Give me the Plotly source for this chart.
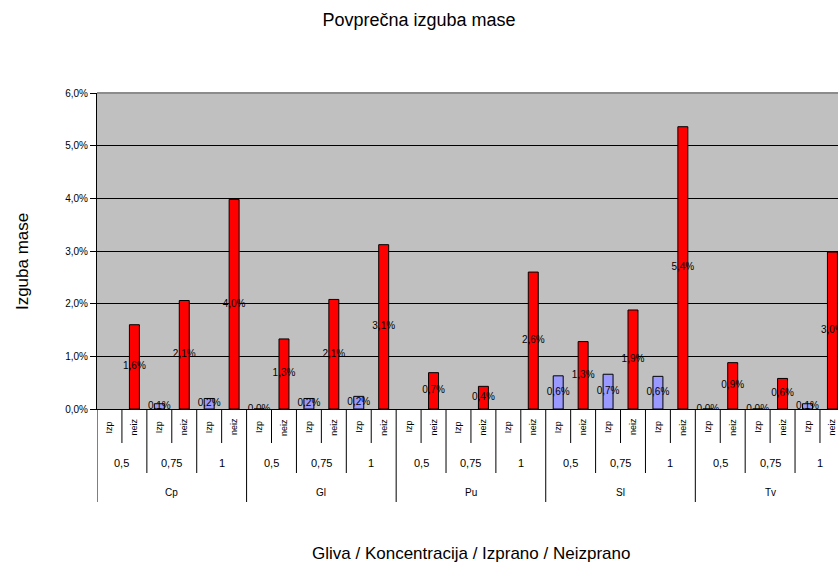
import plotly.graph_objects as go

# Fungi, concentrations and treatment types (washed / unwashed)
fungi = ["Cp", "Gl", "Pu", "Sl", "Tv"]
concentrations = ["0,5", "0,75", "1"]
treatments = ["Izp", "neiz"]

# Average mass loss in %, one list per fungus, ordered conc x (Izp, neiz); None = no sample
loss_cp = [None, 1.6, 0.1, 2.06, 0.2, 3.98]
loss_gl = [0.0, 1.33, 0.2, 2.08, 0.24, 3.12]
loss_pu = [None, 0.69, None, 0.43, None, 2.6]
loss_sl = [0.63, 1.28, 0.66, 1.88, 0.62, 5.36]
loss_tv = [0.0, 0.88, 0.0, 0.58, 0.1, 2.98]

y_ticks = [0, 1, 2, 3, 4, 5, 6]

series = [loss_cp, loss_gl, loss_pu, loss_sl, loss_tv]
colors = {"Izp": "#9999FF", "neiz": "#FF0000"}
FONT = "Liberation Sans, Arial, sans-serif"


def pct(v):
    return f"{v:.1f}%".replace(".", ",")


# flatten the hierarchy into one category index per bar
records = []
for fi, f in enumerate(fungi):
    for ci, c in enumerate(concentrations):
        for ti, t in enumerate(treatments):
            v = series[fi][ci * len(treatments) + ti]
            records.append((f, c, t, v))
n = len(records)

fig = go.Figure()
for t in treatments:
    xs = [i for i, r in enumerate(records) if r[2] == t and r[3] is not None]
    ys = [records[i][3] for i in xs]
    fig.add_trace(go.Bar(
        x=xs, y=ys, width=0.4, name=t,
        marker=dict(color=colors[t], line=dict(color="black", width=1)),
        showlegend=False,
    ))

# value labels sit at the middle of each bar
lx = [i for i, r in enumerate(records) if r[3] is not None]
ly = [records[i][3] / 2 for i in lx]
lt = [pct(records[i][3]) for i in lx]
fig.add_trace(go.Scatter(
    x=lx, y=ly, text=lt, mode="text", textposition="middle center",
    textfont=dict(family=FONT, size=10, color="black"),
    showlegend=False, cliponaxis=True, hoverinfo="skip",
))

# plot area height in px, used to place the multi-level category axis below
PLOT_H = 316.0
def py(px_below):
    return -px_below / PLOT_H

shapes = []
annotations = []
row1_bot, row2_bot, row3_bot = py(34), py(64), py(93)

# left axis line extended through the category rows
shapes.append(dict(type="line", xref="x", yref="paper", x0=-0.5, x1=-0.5,
                   y0=0, y1=row3_bot, line=dict(color="black", width=1)))
# top border of the plot area
shapes.append(dict(type="line", xref="paper", yref="paper", x0=0, x1=1,
                   y0=1, y1=1, line=dict(color="#8c8c8c", width=2)))

for i, (f, c, t, v) in enumerate(records):
    annotations.append(dict(x=i, y=py(18), xref="x", yref="paper", text=t,
                            textangle=-90, showarrow=False,
                            font=dict(family=FONT, size=9, color="black"),
                            xanchor="center", yanchor="middle"))
    b = i + 0.5
    if i == n - 1:
        continue
    if (i + 1) % (len(treatments) * len(concentrations)) == 0:
        bot = row3_bot
    elif (i + 1) % len(treatments) == 0:
        bot = row2_bot
    else:
        bot = row1_bot
    shapes.append(dict(type="line", xref="x", yref="paper", x0=b, x1=b,
                       y0=0, y1=bot, line=dict(color="black", width=1)))

per_conc = len(treatments)
per_fungus = per_conc * len(concentrations)
for fi, f in enumerate(fungi):
    for ci, c in enumerate(concentrations):
        cx = fi * per_fungus + ci * per_conc + (per_conc - 1) / 2
        annotations.append(dict(x=cx, y=py(54), xref="x", yref="paper", text=c,
                                showarrow=False,
                                font=dict(family=FONT, size=11, color="black"),
                                xanchor="center", yanchor="middle"))
    gx = fi * per_fungus + (per_fungus - 1) / 2
    annotations.append(dict(x=gx, y=py(83), xref="x", yref="paper", text=f,
                            showarrow=False,
                            font=dict(family=FONT, size=10, color="black"),
                            xanchor="center", yanchor="middle"))

# axis titles
annotations.append(dict(x=(n - 1) / 2, y=py(144), xref="x", yref="paper",
                        text="Gliva / Koncentracija / Izprano / Neizprano",
                        showarrow=False, xanchor="center", yanchor="middle",
                        font=dict(family=FONT, size=17, color="black")))
annotations.append(dict(x=0, y=0.465, xref="paper", yref="paper", xshift=-75,
                        text="Izguba mase", textangle=-90, showarrow=False,
                        xanchor="center", yanchor="middle",
                        font=dict(family=FONT, size=17, color="black")))

cat_w = 24.93
plot_w = 838 - 97
fig.update_layout(
    width=838, height=570,
    margin=dict(l=97, r=0, t=93, b=161),
    paper_bgcolor="white", plot_bgcolor="#C0C0C0",
    barmode="overlay", separators=",.",
    title=dict(text="Povprečna izguba mase", x=0.5, xanchor="center",
               y=1 - 20 / 570, yanchor="middle",
               font=dict(family=FONT, size=18, color="black")),
    xaxis=dict(range=[-0.5, -0.5 + plot_w / cat_w], showticklabels=False,
               showgrid=False, zeroline=False, ticks="",
               showline=True, linecolor="black", linewidth=1),
    yaxis=dict(range=[0, 6], tickmode="array", tickvals=y_ticks,
               ticktext=[pct(v) for v in y_ticks],
               showgrid=True, gridcolor="black", gridwidth=1, zeroline=False,
               showline=True, linecolor="black", linewidth=1,
               ticks="outside", ticklen=6, tickcolor="black",
               tickfont=dict(family=FONT, size=10, color="black")),
    shapes=shapes, annotations=annotations,
)

fig.write_html("out.html")
